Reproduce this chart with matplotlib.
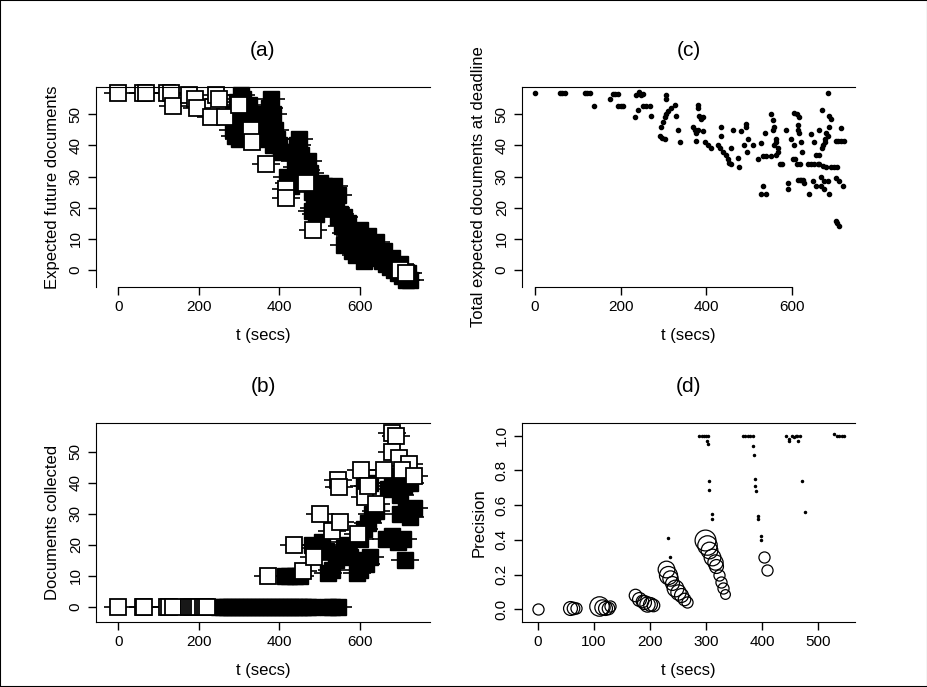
import matplotlib
matplotlib.use('Agg')
import matplotlib.pyplot as plt
from matplotlib.patches import Rectangle

plt.rcParams['font.family'] = ['Liberation Sans', 'DejaVu Sans']

# (a) expected future documents vs time
a_open_t = [0, 62, 70, 120, 130, 136, 176, 190, 196, 230, 242, 250, 264, 300,
            330, 333, 366, 416, 416, 466, 483, 700, 715]
a_open_y = [56.7, 56.7, 56.7, 56.7, 56.7, 52.6, 56, 55, 52, 49, 56, 55, 49, 53,
            45, 41, 34, 26, 23, 28, 13, 0, -1]
a_dense_t = [285, 290, 295, 300, 305, 310, 315, 320, 300, 310, 325, 330, 290, 295,
             355, 360, 365, 370, 375, 380, 385, 390, 395, 400, 405, 375, 385, 365,
             435, 440, 445, 450, 455, 460, 465, 470, 475, 445,
             420, 425, 430, 440,
             480, 485, 490, 500, 510, 520, 530, 540, 550, 560, 570, 505, 515, 535, 545, 480,
             545, 555, 565, 575, 585, 595, 605, 615, 625, 635, 645, 655, 665, 675, 685,
             695, 705, 715, 725, 560, 580, 600, 620, 640, 660, 680, 700, 720, 590, 610]
a_dense_y = [45, 43, 48, 52, 56, 55, 50, 47, 42, 44, 53, 50, 50, 54,
             50, 45, 42, 47, 52, 55, 50, 45, 42, 40, 38, 44, 40, 48,
             38, 35, 40, 42, 37, 34, 32, 35, 31, 33,
             30, 28, 27, 29,
             25, 20, 18, 28, 27, 25, 22, 20, 18, 17, 15, 23, 20, 27, 24, 19,
             17, 14, 12, 11, 9, 10, 8, 7, 6, 5, 4, 3, 2, 1, 0,
             -1, -2, -3, -3, 8, 6, 13, 11, 9, 6, 4, 2, -1, 5, 3]

# (b) documents collected vs time
b_open_t = [0, 62, 65, 120, 125, 135, 175, 180, 185, 190, 195, 200, 210, 215, 220,
            371, 460, 437, 501, 486, 530, 550, 545, 547, 603, 612, 595, 680, 690,
            680, 697, 722, 620, 640, 705, 735, 660]
b_open_y = [0, 0, 0, 0, 0, 0, 0, 0, 0, 0, 0, 0, 0, 0, 0,
            10, 11.5, 20, 30, 16, 24.5, 27.5, 41, 38.5, 44, 35.5, 23.5, 56, 55,
            50, 48, 46, 39, 33, 44, 42, 44]
b_dense_t = [250, 260, 270, 280, 290, 300, 310, 320, 330, 340, 350, 360, 370, 380,
             390, 400, 410, 420, 430, 440, 450, 460, 470, 480, 520, 530, 545,
             414, 425, 440, 452, 480, 490, 505, 515, 520, 530, 540, 550, 560, 570,
             575, 592, 600, 605, 615, 625, 600, 610, 620, 630, 640, 665, 680, 695,
             707, 711, 670, 680, 690, 700, 710, 725, 700, 715, 725, 735, 610, 625]
b_dense_y = [0, 0, 0, 0, 0, 0, 0, 0, 0, 0, 0, 0, 0, 0,
             0, 0, 0, 0, 0, 0, 0, 0, 0, 0, 0, 0, 0,
             10, 10, 10, 10, 20, 19, 21, 18, 11, 12, 15, 17, 19, 20,
             16, 11, 12, 15, 14, 16, 22, 25, 27, 30, 31, 22, 23, 21,
             22, 15, 38, 40, 42, 36, 39, 40, 30, 31, 29, 32, 39, 40]

# (c) total expected documents at deadline
c_t = [0, 58, 64, 70, 116, 122, 128, 137, 175, 182, 188, 194, 194, 200, 206,
       237, 243, 247, 252, 240, 233, 252, 260, 268, 272,
       307, 307, 295, 299, 303, 307, 310, 318, 326, 291, 297, 303, 330, 334, 339,
       380, 381, 384, 388, 392, 369, 373, 377, 381, 377, 392, 396, 403, 411,
       427, 433, 439, 446, 450, 454, 458, 435, 435, 458, 462, 474, 477,
       481, 493, 493, 497, 489, 495, 508, 520, 528, 532, 540, 536, 539, 528, 533,
       551, 555, 559, 555, 563, 559, 563, 567, 551, 563, 567, 571, 577,
       586, 590, 590, 598, 605, 605, 611, 617, 602, 608, 613, 613, 617, 621, 623,
       620, 613, 619, 625, 629, 612, 618, 640, 637, 645, 652, 660, 644, 648, 656,
       656, 652, 664, 672, 680, 668, 668, 675, 675, 664, 670, 683, 687,
       664, 670, 676, 680, 686, 691, 672, 678, 684, 683, 687,
       691, 698, 706, 702, 708, 715, 722, 714, 702, 710, 718, 702, 706, 710]
c_y = [56.7, 56.7, 56.7, 56.7, 56.7, 56.7, 56.7, 52.7, 55, 56.4, 56.4, 56.4, 52.7, 52.7, 52.7,
       56, 57, 56, 56.5, 51.4, 49, 52.7, 52.7, 52.7, 49.5,
       56, 55, 46, 47.5, 49, 50, 51, 52, 53, 43, 42.5, 42, 49.5, 45, 41,
       53, 52, 49.5, 48.5, 49, 46, 45, 44, 45, 41.5, 44.6, 41, 40, 39,
       40, 39, 38, 37, 35.5, 34.5, 34, 46, 43, 39, 45, 36, 33,
       44.6, 47, 46, 42, 40, 38, 40, 35.5, 40.7, 36.6, 36.6, 44, 24.3, 24.3, 27,
       50, 48, 46, 45, 42, 40, 41, 39, 36.6, 37, 38, 34, 34,
       45, 28, 26, 42, 40, 50.5, 50, 49, 35.5, 35.5, 46.6, 45, 44, 41, 38,
       29, 29, 29, 29, 28, 34, 34, 24.3, 34, 34, 34, 34, 43.6, 28.6, 27,
       37, 41, 34, 33.5, 33, 30, 27, 28.6, 26, 45, 51.4, 56.7, 49.5,
       37, 39, 42, 44, 46, 48.4, 40, 41, 43, 28.6, 24.3,
       33, 33, 33, 41.4, 41.4, 41.4, 41.4, 45.7, 29.6, 28.5, 27, 15.7, 15, 14]

# (d) precision vs time, circle size per point
d_t = [0, 57, 62, 68, 110, 115, 120, 125, 128, 173, 180, 185, 190, 195, 200, 205,
       229, 232, 236, 240, 245, 250, 255, 260, 265,
       298, 302, 305, 310, 315, 318, 322, 326, 330, 333, 403, 409]
d_y = [0.004, 0.005, 0.005, 0.005, 0.02, 0.015, 0.01, 0.01, 0.02, 0.08, 0.06, 0.05,
       0.04, 0.03, 0.03, 0.025,
       0.23, 0.2, 0.18, 0.15, 0.12, 0.1, 0.08, 0.06, 0.04,
       0.4, 0.37, 0.34, 0.3, 0.27, 0.25, 0.2, 0.16, 0.12, 0.09, 0.3, 0.225]
d_size = [8, 10, 9, 8, 14, 11, 10, 9, 8, 9, 10, 9, 10, 11, 10, 9,
          12, 13, 11, 10, 12, 11, 10, 9, 8,
          15, 14, 12, 12, 11, 10, 8, 8, 8, 7, 8, 8]
d_dot_t = [288, 292, 296, 300, 304, 302, 303, 305, 305, 310, 310, 232, 236,
           366, 370, 374, 378, 384, 384, 385, 387, 387, 388, 393, 393, 398, 398,
           443, 448, 452, 456, 460, 464, 467, 447, 462, 470, 476, 527, 533, 537, 541, 545]
d_dot_y = [1.0, 1.0, 1.0, 1.0, 1.0, 0.97, 0.95, 0.74, 0.69, 0.55, 0.52, 0.41, 0.3,
           1.0, 1.0, 1.0, 1.0, 1.0, 0.94, 0.89, 0.75, 0.71, 0.68, 0.54, 0.52, 0.42, 0.40,
           1.0, 0.98, 1.0, 0.99, 1.0, 0.97, 1.0, 0.97, 1.0, 0.74, 0.56, 1.01, 1.0, 1.0, 1.0, 1.0]

W, H = 928, 687
fig = plt.figure(figsize=(W / 100, H / 100), dpi=100)
fig.patches.append(Rectangle((0, 0), 1, 1, transform=fig.transFigure,
                             fill=False, edgecolor='black', lw=1.5))


def make_ax(left, top, right, bottom):
    return fig.add_axes([left / W, 1 - bottom / H, (right - left) / W, (bottom - top) / H])


def style(ax, title, ylabel, xticks, yticks, ylabels, box):
    ax.set_title(title, fontsize=15, pad=22)
    ax.set_xlabel('t (secs)', fontsize=12, labelpad=10)
    ax.set_ylabel(ylabel, fontsize=12, labelpad=6)
    ax.set_xticks(xticks)
    ax.set_yticks(yticks)
    ax.set_yticklabels(ylabels, rotation=90, va='center')
    ax.tick_params(direction='out', length=6, labelsize=11, width=1)
    ax.spines['right'].set_visible(False)
    if not box:
        ax.spines['bottom'].set_bounds(xticks[0], xticks[-1])


def squares(ax, t_open, y_open, t_dense, y_dense):
    ax.plot(t_open + t_dense, y_open + y_dense, '_', color='black', ms=20, mew=1.2,
            clip_on=False)
    ax.plot(t_dense, y_dense, 's', mfc='black', mec='black', ms=11, clip_on=False)
    ax.plot(t_open, y_open, 's', mfc='white', mec='black', ms=11, mew=1.3, clip_on=False)


ax_a = make_ax(96, 87, 430, 287)
squares(ax_a, a_open_t, a_open_y, a_dense_t, a_dense_y)
ax_a.set_xlim(-55, 774)
ax_a.set_ylim(-5.4, 58.7)
style(ax_a, '(a)', 'Expected future documents', [0, 200, 400, 600],
      [0, 10, 20, 30, 40, 50], ['0', '10', '20', '30', '40', '50'], False)

ax_b = make_ax(96, 423, 430, 622)
squares(ax_b, b_open_t, b_open_y, b_dense_t, b_dense_y)
ax_b.set_xlim(-55, 774)
ax_b.set_ylim(-4.8, 59.2)
style(ax_b, '(b)', 'Documents collected', [0, 200, 400, 600],
      [0, 10, 20, 30, 40, 50], ['0', '10', '20', '30', '40', '50'], True)

ax_c = make_ax(522, 87, 855, 287)
ax_c.plot(c_t, c_y, 'o', color='black', ms=3)
ax_c.set_xlim(-30, 747)
ax_c.set_ylim(-5.4, 58.7)
style(ax_c, '(c)', 'Total expected documents at deadline', [0, 200, 400, 600],
      [0, 10, 20, 30, 40, 50], ['0', '10', '20', '30', '40', '50'], False)

ax_d = make_ax(522, 423, 855, 622)
for t, y, s in zip(d_t, d_y, d_size):
    ax_d.plot(t, y, 'o', mfc='none', mec='black', ms=s, mew=0.9)
ax_d.plot(d_dot_t, d_dot_y, 'o', color='black', ms=1.5)
ax_d.set_xlim(-28, 565)
ax_d.set_ylim(-0.073, 1.073)
style(ax_d, '(d)', 'Precision', [0, 100, 200, 300, 400, 500],
      [0, 0.2, 0.4, 0.6, 0.8, 1.0], ['0.0', '0.2', '0.4', '0.6', '0.8', '1.0'], True)

fig.savefig('out.png', dpi=100)
